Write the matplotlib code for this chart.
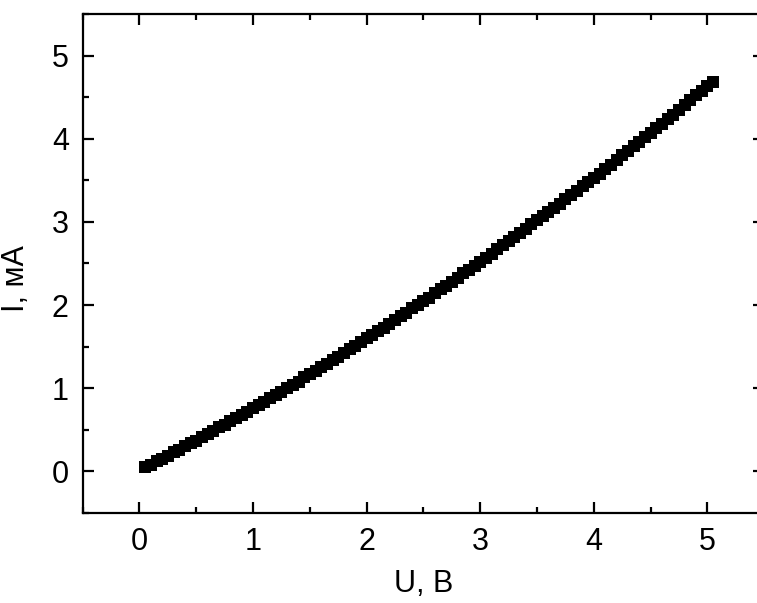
import matplotlib
matplotlib.use("Agg")
import matplotlib.pyplot as plt
from matplotlib.ticker import MultipleLocator

plt.rcParams['font.family'] = ['Liberation Sans', 'DejaVu Sans']

# Current-voltage characteristic
voltage = [
    0.05, 0.10, 0.15, 0.20, 0.25, 0.30, 0.35, 0.40, 0.45, 0.50,
    0.55, 0.60, 0.65, 0.70, 0.75, 0.80, 0.85, 0.90, 0.95, 1.00,
    1.05, 1.10, 1.15, 1.20, 1.25, 1.30, 1.35, 1.40, 1.45, 1.50,
    1.55, 1.60, 1.65, 1.70, 1.75, 1.80, 1.85, 1.90, 1.95, 2.00,
    2.05, 2.10, 2.15, 2.20, 2.25, 2.30, 2.35, 2.40, 2.45, 2.50,
    2.55, 2.60, 2.65, 2.70, 2.75, 2.80, 2.85, 2.90, 2.95, 3.00,
    3.05, 3.10, 3.15, 3.20, 3.25, 3.30, 3.35, 3.40, 3.45, 3.50,
    3.55, 3.60, 3.65, 3.70, 3.75, 3.80, 3.85, 3.90, 3.95, 4.00,
    4.05, 4.10, 4.15, 4.20, 4.25, 4.30, 4.35, 4.40, 4.45, 4.50,
    4.55, 4.60, 4.65, 4.70, 4.75, 4.80, 4.85, 4.90, 4.95, 5.00,
    5.05,
]
current = [
    0.05, 0.08, 0.12, 0.15, 0.19, 0.23, 0.26, 0.30, 0.34, 0.37,
    0.41, 0.45, 0.49, 0.53, 0.56, 0.60, 0.64, 0.68, 0.72, 0.76,
    0.80, 0.84, 0.88, 0.92, 0.96, 1.00, 1.04, 1.08, 1.13, 1.17,
    1.21, 1.25, 1.29, 1.34, 1.38, 1.42, 1.47, 1.51, 1.55, 1.60,
    1.64, 1.69, 1.73, 1.77, 1.82, 1.87, 1.91, 1.96, 2.00, 2.05,
    2.09, 2.14, 2.19, 2.23, 2.28, 2.33, 2.38, 2.42, 2.47, 2.52,
    2.57, 2.62, 2.67, 2.72, 2.77, 2.82, 2.87, 2.92, 2.97, 3.02,
    3.07, 3.12, 3.17, 3.22, 3.27, 3.32, 3.37, 3.43, 3.48, 3.53,
    3.58, 3.64, 3.69, 3.74, 3.80, 3.85, 3.91, 3.96, 4.02, 4.07,
    4.13, 4.18, 4.24, 4.29, 4.35, 4.40, 4.46, 4.52, 4.57, 4.63,
    4.68,
]

fig = plt.figure(figsize=(7.57, 6.03), dpi=100)
ax = fig.add_axes([0.1092, 0.1493, 0.9004, 0.8275])

ax.plot(voltage, current, linestyle='none', marker='s', markersize=8,
        color='black', markeredgewidth=0)

ax.set_xlim(-0.5, 5.5)
ax.set_ylim(-0.5, 5.5)
ax.xaxis.set_major_locator(MultipleLocator(1))
ax.xaxis.set_minor_locator(MultipleLocator(0.5))
ax.yaxis.set_major_locator(MultipleLocator(1))
ax.yaxis.set_minor_locator(MultipleLocator(0.5))

ax.tick_params(which='both', direction='in', top=True, right=True,
               width=1.6, labelsize=22, colors='black')
ax.tick_params(which='major', length=8, pad=10)
ax.tick_params(which='minor', length=4.5)
for s in ax.spines.values():
    s.set_linewidth(1.6)

ax.set_xlabel('U, B', fontsize=22)
ax.set_ylabel('I, мА', fontsize=22)
ax.xaxis.set_label_coords(0.5, -0.112)
ax.yaxis.set_label_coords(-0.076, 0.47)

fig.savefig('out.png', dpi=100)
